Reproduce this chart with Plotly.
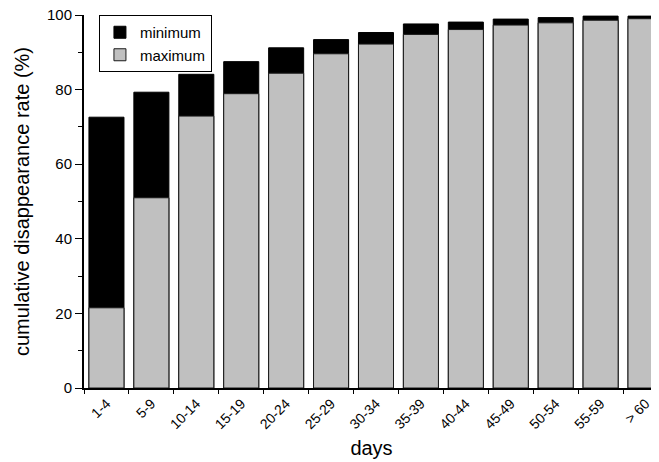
import plotly.graph_objects as go

categories = ["1-4", "5-9", "10-14", "15-19", "20-24", "25-29", "30-34",
              "35-39", "40-44", "45-49", "50-54", "55-59", "> 60"]
minimum = [72.6, 79.3, 84.1, 87.5, 91.2, 93.4, 95.3, 97.6, 98.1, 98.9, 99.3, 99.7, 99.7]
maximum = [21.5, 51.0, 72.9, 78.9, 84.4, 89.6, 92.2, 94.8, 96.1, 97.3, 97.9, 98.6, 99.0]

fig = go.Figure()
fig.add_trace(go.Bar(x=categories, y=minimum, name="minimum",
                     marker=dict(color="#000000", line=dict(color="#000000", width=1))))
fig.add_trace(go.Bar(x=categories, y=maximum, name="maximum",
                     marker=dict(color="#c0c0c0", line=dict(color="#1a1a1a", width=1))))

font_family = "Liberation Sans, Arial, sans-serif"
fig.update_layout(
    width=659, height=462,
    margin=dict(l=76, r=8, t=7, b=82, autoexpand=False),
    barmode="overlay",
    bargap=0.22,
    plot_bgcolor="white",
    paper_bgcolor="white",
    font=dict(family=font_family, color="#000000"),
    showlegend=True,
    legend=dict(x=0.026, y=1, xanchor="left", yanchor="top",
                bordercolor="#000000", borderwidth=1, bgcolor="white",
                font=dict(size=15), traceorder="normal",
                tracegroupgap=0, itemwidth=30),
)
fig.update_xaxes(
    type="category", range=[-0.5, 12.3], automargin=False,
    showline=True, linecolor="#000000", linewidth=2,
    ticks="outside", ticklen=4, tickwidth=1, tickcolor="#000000",
    tickson="boundaries", tickangle=-45, tickfont=dict(size=14),
    ticklabeloverflow="allow",
    showgrid=False, zeroline=False,
    title=dict(text="days", font=dict(size=20), standoff=10),
)
fig.update_yaxes(
    range=[0, 100], dtick=20, automargin=False,
    showline=True, linecolor="#000000", linewidth=2,
    ticks="outside", ticklen=7, tickwidth=1, tickcolor="#000000",
    minor=dict(dtick=10, ticks="outside", ticklen=4, tickcolor="#000000"),
    tickfont=dict(size=15), ticklabeloverflow="allow",
    showgrid=False, zeroline=False,
    title=dict(text="cumulative disappearance rate (%)", font=dict(size=20), standoff=12),
)

fig.write_html("out.html")
